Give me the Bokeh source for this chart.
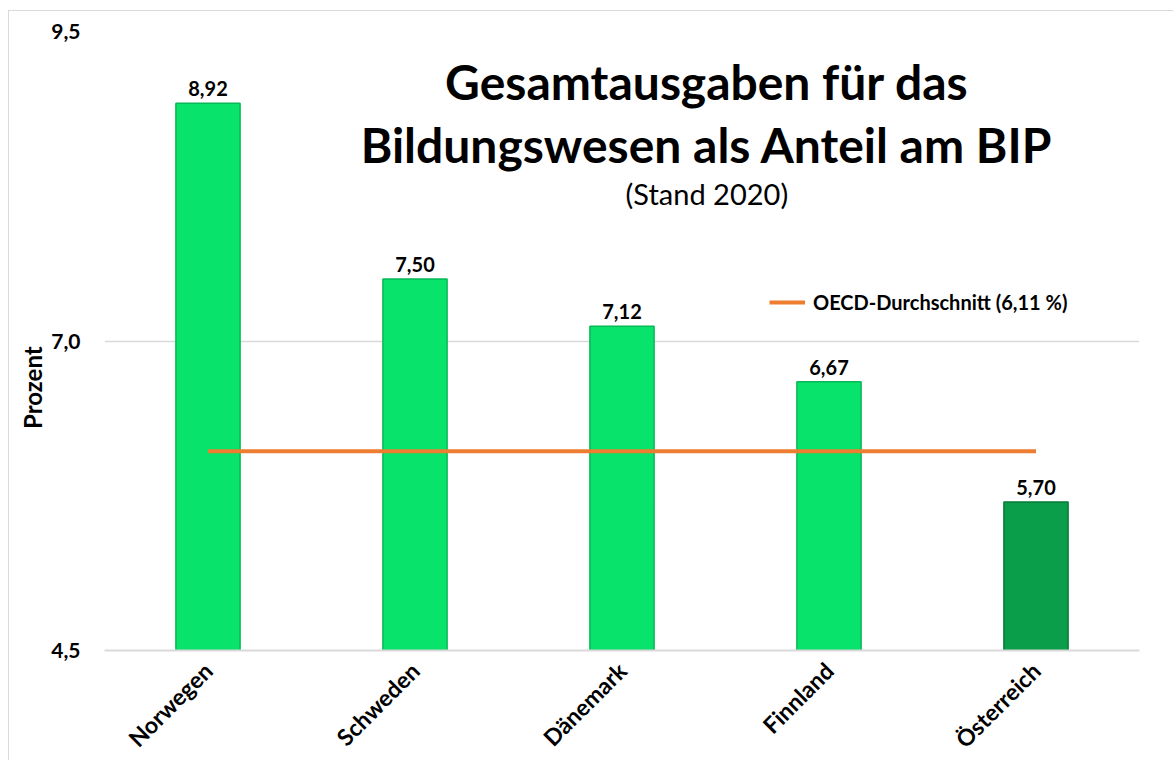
from bokeh.plotting import figure
from bokeh.models import Label, Legend, LegendItem, FixedTicker, ColumnDataSource, InlineStyleSheet
from bokeh.core.properties import value
from bokeh.embed import file_html
from bokeh.resources import INLINE
import math

countries = ["Norwegen", "Schweden", "Dänemark", "Finnland", "Österreich"]
values = [8.92, 7.50, 7.12, 6.67, 5.70]
colors = ["#08E36C", "#08E36C", "#08E36C", "#08E36C", "#0A9E4A"]
edge_colors = ["#06B856", "#06B856", "#06B856", "#06B856", "#077A39"]
oecd_avg = 6.11
y_ticks = [4.5, 7.0, 9.5]
y_tick_labels = ["4,5", "7,0", "9,5"]

FONT = "Lato"

p = figure(x_range=countries, y_range=(4.5, 9.5), width=1173, height=760,
           output_backend="svg", toolbar_location=None,
           min_border_left=104, min_border_right=34, min_border_top=31, min_border_bottom=110)
p.frame_width = 1035
p.frame_height = 619
p.outline_line_color = None
p.background_fill_color = "white"
p.border_fill_color = "white"
p.stylesheets = [InlineStyleSheet(css=(
    ":host { position: relative; }"
    ":host::after { content: ''; position: absolute; left: 8px; top: 10px; right: -20px; "
    "bottom: -20px; border: 1.5px solid #D9D9D9; pointer-events: none; }"))]

src = ColumnDataSource(dict(x=countries, top=values, color=colors, edge=edge_colors,
                            lab=[f"{v:.2f}".replace(".", ",") for v in values]))
p.vbar(x="x", top="top", bottom=4.5, width=0.31, source=src, fill_color="color",
       line_color="edge", line_width=1.5)

oecd = p.line(x=countries, y=[oecd_avg] * len(countries), line_color="#ED7D31", line_width=4)

p.text(x="x", y="top", text="lab", source=src, text_align="center", text_baseline="bottom",
       text_font=value(FONT), text_font_style="bold", text_font_size="20px", text_color="#000000",
       y_offset=-7)

# axes
p.yaxis.ticker = FixedTicker(ticks=y_ticks)
p.yaxis.major_label_overrides = {t: l for t, l in zip(y_ticks, y_tick_labels)}
p.yaxis.axis_line_color = None
p.yaxis.major_tick_line_color = None
p.yaxis.minor_tick_line_color = None
p.yaxis.major_label_text_font = FONT
p.yaxis.major_label_text_font_style = "bold"
p.yaxis.major_label_text_font_size = "21px"
p.yaxis.major_label_text_color = "#000000"
p.yaxis.major_label_standoff = 18
p.yaxis.axis_label = "Prozent" + "\u00a0" * 16
p.yaxis.axis_label_text_font = FONT
p.yaxis.axis_label_text_font_style = "bold"
p.yaxis.axis_label_text_font_size = "24px"
p.yaxis.axis_label_text_color = "#000000"
p.yaxis.axis_label_standoff = 1

p.xaxis.axis_line_color = "#D9D9D9"
p.xaxis.axis_line_width = 2
p.xaxis.major_tick_line_color = None
p.xaxis.minor_tick_line_color = None
p.xaxis.major_label_orientation = math.pi / 4
p.xaxis.major_label_text_font = FONT
p.xaxis.major_label_text_font_style = "bold"
p.xaxis.major_label_text_font_size = "23px"
p.xaxis.major_label_text_color = "#000000"
p.xaxis.major_label_standoff = 10

p.xgrid.grid_line_color = None
p.ygrid.grid_line_color = "#D9D9D9"
p.ygrid.grid_line_width = 1.5

# title
p.add_layout(Label(x=2.91, y=9.10, text="Gesamtausgaben für das", text_align="center",
                   text_baseline="middle", text_font=FONT, text_font_style="bold",
                   text_font_size="48px", text_color="#000000"))
p.add_layout(Label(x=2.91, y=8.59, text="Bildungswesen als Anteil am BIP", text_align="center",
                   text_baseline="middle", text_font=FONT, text_font_style="bold",
                   text_font_size="48px", text_color="#000000"))
p.add_layout(Label(x=2.91, y=8.19, text="(Stand 2020)", text_align="center",
                   text_baseline="middle", text_font=FONT,
                   text_font_size="29px", text_color="#000000"))

legend = Legend(items=[LegendItem(label="OECD-Durchschnitt (6,11 %)", renderers=[oecd])],
                location=(665, 336), padding=0, margin=0, glyph_width=36, label_standoff=8,
                border_line_color=None, background_fill_alpha=0,
                label_text_font=FONT, label_text_font_style="bold", label_text_font_size="20px",
                label_text_color="#000000")
p.add_layout(legend, "center")

open("out.html", "w").write(file_html(p, INLINE))
